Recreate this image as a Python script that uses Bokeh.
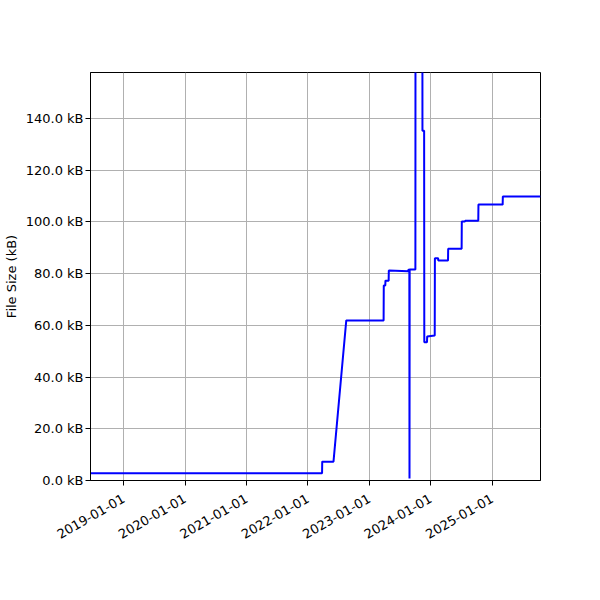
import math
import pandas as pd
from bokeh.plotting import figure
from bokeh.models import Range1d, FixedTicker, PrintfTickFormatter, DatetimeTickFormatter
from bokeh.embed import file_html
from bokeh.resources import INLINE

# commit dates and file size (kB)
dates = [
    "2018-06-18", "2022-03-26", "2022-03-27", "2022-06-02", "2022-08-17",
    "2023-03-27", "2023-03-28", "2023-04-06", "2023-04-07", "2023-04-26",
    "2023-04-27", "2023-08-20", "2023-08-21", "2023-08-27", "2023-08-28",
    "2023-08-29", "2023-10-02", "2023-10-03", "2023-11-12", "2023-11-13",
    "2023-11-23", "2023-11-24", "2023-12-10", "2023-12-11", "2024-01-25",
    "2024-01-26", "2024-02-14", "2024-02-15", "2024-04-13", "2024-04-14",
    "2024-07-03", "2024-07-04", "2024-07-23", "2024-07-24", "2024-10-10",
    "2024-10-11", "2025-03-04", "2025-03-05", "2025-10-15",
]
sizes_kb = [
    2.8, 2.8, 7.3, 7.3, 61.9,
    61.9, 75.4, 75.4, 77.3, 77.3,
    81.2, 80.9, 81.5, 81.5, 0.8,
    81.6, 81.6, 240.0, 240.0, 135.3,
    135.3, 53.5, 53.5, 55.7, 56.1,
    86.0, 86.0, 85.1, 85.1, 89.6,
    89.6, 100.2, 100.2, 100.5, 100.5,
    106.7, 106.7, 109.8, 109.8,
]
tick_labels = ["2019-01-01", "2020-01-01", "2021-01-01", "2022-01-01",
               "2023-01-01", "2024-01-01", "2025-01-01"]
y_ticks = [0, 20, 40, 60, 80, 100, 120, 140]
y_max = 157.8

x = pd.to_datetime(dates)

p = figure(
    x_axis_type="datetime",
    frame_width=450, frame_height=408,
    min_border_left=0, min_border_right=52,
    min_border_top=72, min_border_bottom=100,
    output_backend="svg", toolbar_location=None,
    x_range=Range1d(x[0], x[-1]), y_range=Range1d(0, y_max),
)

p.line(x, sizes_kb, line_color="blue", line_width=2)

font = "DejaVu Sans"
tick_ms = [pd.Timestamp(t).value / 1e6 for t in tick_labels]
p.xaxis.ticker = FixedTicker(ticks=tick_ms)
p.xaxis.formatter = DatetimeTickFormatter(days="%Y-%m-%d", months="%Y-%m-%d", years="%Y-%m-%d")
p.xaxis.major_label_orientation = math.radians(30)
p.yaxis.ticker = FixedTicker(ticks=y_ticks)
p.yaxis.formatter = PrintfTickFormatter(format="%.1f kB")
p.yaxis.axis_label = "File Size (kB)"

for ax in (p.xaxis, p.yaxis):
    ax.major_label_text_font = font
    ax.major_label_text_font_size = "13px"
    ax.major_label_text_color = "black"
    ax.axis_label_text_font = font
    ax.axis_label_text_font_size = "13px"
    ax.axis_label_text_font_style = "normal"
    ax.axis_label_text_color = "black"
    ax.axis_line_color = "black"
    ax.major_tick_line_color = "black"
    ax.major_tick_out = 5
    ax.major_tick_in = 0
    ax.minor_tick_line_color = None
    ax.major_label_standoff = 2
    ax.axis_label_standoff = 4

p.xaxis.major_label_standoff = 12

p.grid.grid_line_color = "#b0b0b0"
p.grid.grid_line_width = 1
p.outline_line_color = "black"
p.outline_line_alpha = 1
p.background_fill_color = "white"
p.border_fill_color = "white"

open("out.html", "w").write(file_html(p, INLINE))
